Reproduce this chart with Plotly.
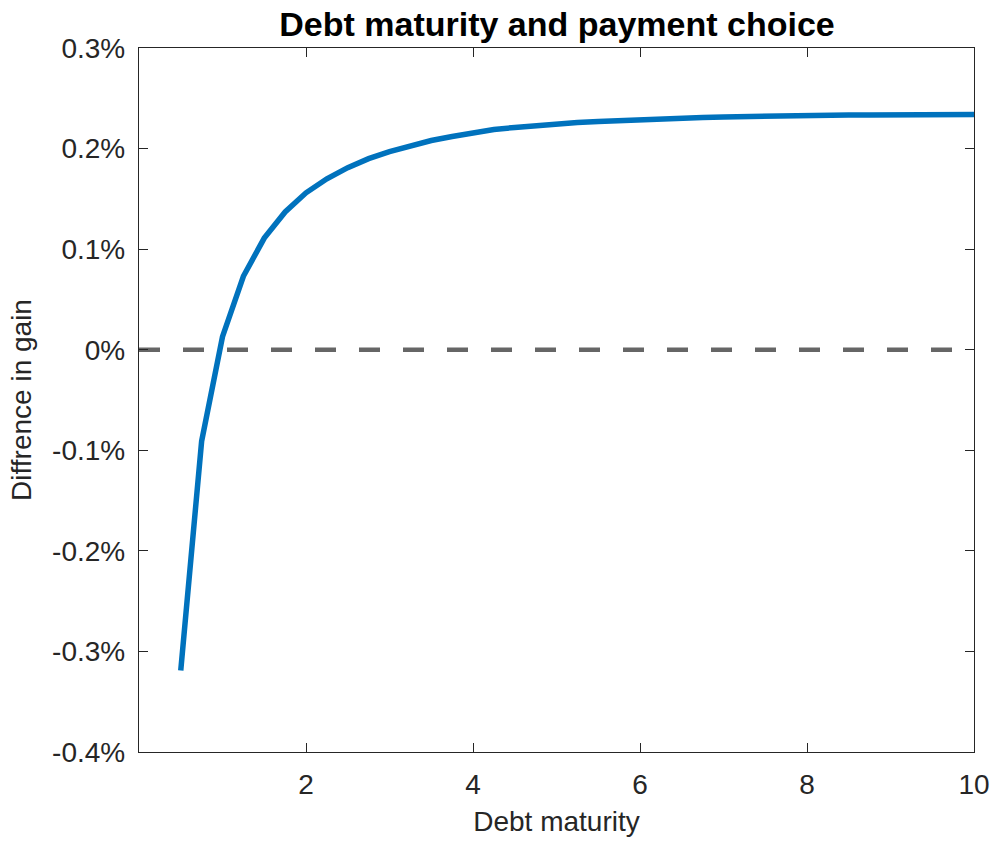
import plotly.graph_objects as go

maturity = [0.5, 0.75, 1.0, 1.25, 1.5, 1.75, 2.0, 2.25, 2.5, 2.75, 3.0, 3.25, 3.5, 3.75,
            4.0, 4.25, 4.5, 4.75, 5.0, 5.25, 5.5, 5.75, 6.0, 6.25, 6.5, 6.75, 7.0, 7.25,
            7.5, 7.75, 8.0, 8.25, 8.5, 8.75, 9.0, 9.25, 9.5, 9.75, 10.0]
gain_diff = [-0.319, -0.091, 0.013, 0.073, 0.111, 0.137, 0.156, 0.170, 0.181, 0.190,
             0.197, 0.203, 0.208, 0.212, 0.216, 0.219, 0.221, 0.223, 0.225, 0.226,
             0.227, 0.228, 0.229, 0.230, 0.2305, 0.231, 0.2315, 0.232, 0.2323, 0.2326,
             0.2329, 0.2331, 0.2333, 0.2334, 0.2335, 0.2336, 0.2337, 0.2338, 0.2338]
ref_x = [0, 10]
ref_y = [0, 0]

x_ticks = [2, 4, 6, 8, 10]
y_ticks = [-0.4, -0.3, -0.2, -0.1, 0, 0.1, 0.2, 0.3]
y_labels = ["-0.4%", "-0.3%", "-0.2%", "-0.1%", "0%", "0.1%", "0.2%", "0.3%"]

axis_col = "#262626"
font_fam = "Liberation Sans, Arial, sans-serif"

fig = go.Figure()
fig.add_trace(go.Scatter(x=ref_x, y=ref_y, mode="lines",
                         line=dict(color="#666666", width=4.5, dash="21px,23px"),
                         showlegend=False, hoverinfo="skip"))
fig.add_trace(go.Scatter(x=maturity, y=gain_diff, mode="lines",
                         line=dict(color="#0072BD", width=5.5),
                         showlegend=False))

fig.update_layout(
    width=995, height=841,
    margin=dict(l=139, r=21, t=48, b=89, autoexpand=False),
    paper_bgcolor="white", plot_bgcolor="white",
    font=dict(family=font_fam, color=axis_col, size=28),
    title=dict(text="<b>Debt maturity and payment choice</b>",
               x=557 / 995, xanchor="center",
               y=1 - 24 / 841, yanchor="middle",
               font=dict(size=34, color="black", family=font_fam)),
    xaxis=dict(range=[0, 10], tickvals=x_ticks, ticks="inside", ticklen=9,
               tickcolor=axis_col, tickwidth=1.3, showline=True, linecolor=axis_col,
               linewidth=1.3, mirror="ticks", showgrid=False, zeroline=False,
               automargin=False, ticklabelstandoff=7,
               tickfont=dict(size=28),
               title=dict(text="Debt maturity", font=dict(size=28), standoff=12)),
    yaxis=dict(range=[-0.4, 0.3], tickvals=y_ticks, ticktext=y_labels, ticks="inside",
               ticklen=9, tickcolor=axis_col, tickwidth=1.3, showline=True,
               linecolor=axis_col, linewidth=1.3, mirror="ticks", showgrid=False,
               zeroline=False, automargin=False, ticklabelstandoff=7,
               tickfont=dict(size=28),
               title=dict(text="Diffrence in gain", font=dict(size=28), standoff=12)),
)

fig.write_html("out.html")
